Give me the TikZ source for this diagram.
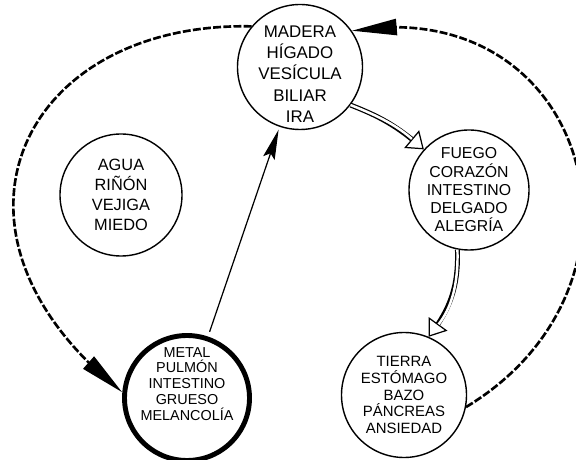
\documentclass[tikz,border=0pt]{standalone}
\usepackage{fontspec}
\setmainfont{Liberation Sans}
\usetikzlibrary{arrows.meta,bending}

\tikzset{
organo/.style={circle, draw, line width=0.8pt, minimum size=2.5cm, inner sep=-4mm, align=center},
flecha/.style={line width=0.7pt, shorten <=1mm, shorten >=0.6mm, -{Stealth[length=6mm,width=2.4mm,inset=1mm]}},
flechadoble/.style={line width=2.8pt, -{Triangle[open, length=3.2mm, width=4.6mm, line width=0.7pt]},
  postaction={draw=white, line width=1.4pt, -, shorten >=3.2mm}},
ciclo/.style={line width=1.5pt, dash pattern=on 4.5pt off 1.3pt, -{Triangle[length=9mm,width=3.2mm]}}
}

\begin{document}
\begin{tikzpicture}
\useasboundingbox (0,0) rectangle (11.52,9.18);
\node[organo, font=\fontsize{9.6}{12.1}\selectfont] (madera) at (6.00,7.84) {MADERA\\HÍGADO\\VESÍCULA\\BILIAR\\IRA\\[-7.1mm]};
\node[organo, minimum size=2.4cm, font=\fontsize{9}{10.4}\selectfont] (fuego) at (9.38,5.38) {FUEGO\\CORAZÓN\\INTESTINO\\DELGADO\\ALEGRÍA};
\node[organo, font=\fontsize{8.5}{9.5}\selectfont] (tierra) at (8.08,1.28) {TIERRA\\ESTÓMAGO\\BAZO\\PÁNCREAS\\ANSIEDAD};
\node[organo, line width=2.8pt, font=\fontsize{8.2}{9}\selectfont] (metal) at (3.74,1.22) {METAL\\PULMÓN\\INTESTINO\\GRUESO\\MELANCOLÍA\\[2.5mm]};
\node[organo, minimum size=2.44cm, font=\fontsize{9.3}{11.4}\selectfont] (agua) at (2.42,5.28) {AGUA\\RIÑÓN\\VEJIGA\\MIEDO};

\draw[flechadoble] (madera.-37) to[bend left=10] (fuego.138);
\draw[flechadoble] (fuego.259) to[bend left=20] (tierra.67);
\draw[flecha] (metal) -- (madera);
\draw[ciclo] (madera.140) .. controls +(-4.6,0.1) and +(-4.06,3.22) .. (metal.175);
\draw[ciclo] (tierra.-11) .. controls +(4.1,2.48) and +(4.74,0.78) .. (madera.35);
\end{tikzpicture}
\end{document}
